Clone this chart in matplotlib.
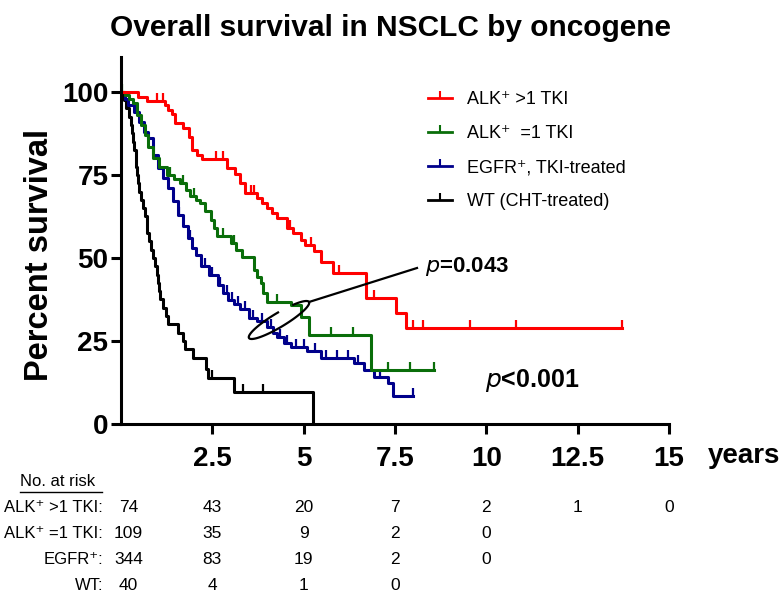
import numpy as np
import matplotlib
matplotlib.use('Agg')
import matplotlib.pyplot as plt
import matplotlib.transforms as mtransforms
from matplotlib.lines import Line2D

plt.rcParams['font.family'] = ['Liberation Sans', 'DejaVu Sans']

W, H = 781, 601

labels = ['ALK⁺ >1 TKI', 'ALK⁺  =1 TKI', 'EGFR⁺, TKI-treated', 'WT (CHT-treated)']
colors = ['#ff0000', '#0a6e0a', '#00008b', '#000000']

# Kaplan-Meier steps: time (years) and percent surviving
alk2_t = [0, 0.47, 0.72, 1.2, 1.3, 1.4, 1.48, 1.7, 1.85, 1.95, 2.08, 2.23, 2.9, 3.13, 3.27, 3.4,
          3.73, 3.87, 4.0, 4.14, 4.28, 4.55, 4.7, 4.92, 5.05, 5.27, 5.47, 5.8, 6.7, 7.53, 7.8]
alk2_s = [100, 98.6, 97.3, 96, 94.6, 93.2, 90.5, 89.2, 86.5, 82.4, 81, 79.7, 77, 75.4, 72.5, 69.6,
          68, 66.6, 65, 63.6, 62, 59, 57.5, 55.4, 54, 52, 48.8, 45.5, 38, 33.4, 29]
alk2_cens = [0.98, 1.16, 2.6, 2.8, 3.55, 3.65, 4.62, 5.2, 5.96, 6.92, 8.0, 8.27, 9.55, 10.8, 13.7]

alk1_t = [0, 0.12, 0.22, 0.33, 0.45, 0.55, 0.65, 0.75, 0.88, 1.05, 1.26, 1.45, 1.62, 1.78, 1.9,
          2.05, 2.17, 2.3, 2.45, 2.55, 2.63, 3.0, 3.15, 3.3, 3.63, 3.73, 3.82, 3.9, 4.0, 4.64,
          4.92, 5.15, 6.84]
alk1_s = [100, 99, 98, 96.5, 93, 90, 87, 83.5, 80, 77.5, 75, 73.8, 72.5, 70.5, 68.5,
          67.5, 66.5, 64, 61.5, 59, 56.5, 54.5, 52.5, 50.4, 46.4, 44.4, 42.4, 39.4, 36.8, 35.8,
          32.3, 26.8, 16.3]
alk1_cens = [0.02, 1.35, 1.7, 2.0, 2.8, 3.1, 4.27, 5.74, 6.35, 7.3, 7.9, 8.58]

egfr_t = [0, 0.1, 0.2, 0.35, 0.5, 0.62, 0.74, 0.88, 1.02, 1.15, 1.29, 1.42, 1.57, 1.7, 1.84,
          1.95, 2.05, 2.2, 2.4, 2.66, 2.8, 2.94, 3.1, 3.27, 3.49, 3.73, 4.0, 4.15, 4.28, 4.45,
          4.64, 5.1, 5.47, 6.37, 6.65, 6.93, 7.3, 7.44]
egfr_s = [100, 98, 96, 94, 91, 88, 86, 81, 77, 74, 71, 67, 63, 59.5, 56,
          53, 51, 47.5, 45, 42, 39.5, 37.3, 36, 34.5, 32, 31, 29.2, 27.5, 26.2, 24.5,
          23.2, 22, 19.9, 18.4, 16.3, 14.2, 12.3, 8.5]
egfr_cens = [1.6, 1.9, 2.3, 2.5, 2.7, 2.9, 3.05, 3.2, 3.4, 3.6, 3.85, 4.1, 4.35, 4.55, 4.8,
             5.0, 5.3, 5.6, 5.9, 6.2, 6.5, 7.1, 8.0]

wt_t = [0, 0.08, 0.15, 0.22, 0.27, 0.3, 0.33, 0.36, 0.4, 0.42, 0.44, 0.46, 0.48, 0.55, 0.6,
        0.65, 0.7, 0.72, 0.76, 0.82, 0.87, 0.93, 0.98, 1.02, 1.05, 1.08, 1.15, 1.22, 1.29,
        1.57, 1.7, 1.76, 1.98, 2.33, 2.39, 3.08, 5.25]
wt_s = [100, 97.5, 95, 92.5, 90, 87.5, 85, 82.5, 80, 77.5, 75, 72.5, 70, 67.5, 65,
        62.5, 60, 57.5, 55, 52.5, 50, 47.5, 45, 42.5, 40, 37.5, 35, 32.5, 30,
        27.5, 25, 22.5, 20, 16.5, 13.8, 9.7, 0]
wt_cens = [2.5, 3.35, 3.9]

# numbers at risk
risk_times = [0, 2.5, 5, 7.5, 10, 12.5, 15]
risk_alk2 = [74, 43, 20, 7, 2, 1, 0]
risk_alk1 = [109, 35, 9, 2, 0]
risk_egfr = [344, 83, 19, 2, 0]
risk_wt = [40, 4, 1, 0]
risk_labels = ['ALK⁺ >1 TKI:', 'ALK⁺ =1 TKI:', 'EGFR⁺:', 'WT:']


def fx(px):
    return px / W


def fy(py):
    return 1 - py / H


def km_curve(ax, t, s, cens, color):
    t_end = max(max(cens), t[-1])
    ax.step(list(t) + [t_end], list(s) + [s[-1]], where='post', color=color, lw=2.2)
    idx = np.searchsorted(t, cens, side='right') - 1
    ax.plot(cens, np.array(s)[idx], ls='none', marker=2, ms=6, mew=1.6, color=color)


fig = plt.figure(figsize=(W / 100, H / 100), dpi=100)
ax = fig.add_axes([fx(121), fy(424), fx(669) - fx(121), fy(57) - fy(424)])

curves = [(alk2_t, alk2_s, alk2_cens), (alk1_t, alk1_s, alk1_cens),
          (egfr_t, egfr_s, egfr_cens), (wt_t, wt_s, wt_cens)]
# draw black first so coloured curves sit on top
for (t, s, c), col in reversed(list(zip(curves, colors))):
    km_curve(ax, t, s, c, col)

ax.set_xlim(0, 15)
ax.set_ylim(0, 110.5)
ax.set_xticks([2.5, 5, 7.5, 10, 12.5, 15])
ax.set_xticklabels(['2.5', '5', '7.5', '10', '12.5', '15'])
ax.set_yticks([0, 25, 50, 75, 100])
for sp in ['top', 'right']:
    ax.spines[sp].set_visible(False)
for sp in ['left', 'bottom']:
    ax.spines[sp].set_linewidth(2.2)
ax.tick_params(axis='both', width=2.2, length=7, labelsize=20)
ax.tick_params(axis='x', pad=9)
ax.tick_params(axis='y', pad=2)
for lab in ax.get_xticklabels() + ax.get_yticklabels():
    lab.set_fontweight('bold')

fig.text(fx(708), fy(456), 'years', fontsize=20, fontweight='bold', va='center', ha='left')
fig.text(fx(40), fy(255), 'Percent survival', fontsize=23.5, fontweight='bold',
         rotation=90, va='center', ha='center')
fig.text(fx(390), fy(28), 'Overall survival in NSCLC by oncogene', fontsize=21.5,
         fontweight='bold', ha='center', va='center')

# legend
handles = [Line2D([], [], color=c, lw=2, marker=2, ms=5, mew=1.5) for c in colors]
ax.legend(handles, labels, loc='upper left', bbox_to_anchor=(fx(428), fy(91)),
          bbox_transform=fig.transFigure, frameon=False, fontsize=13,
          handlelength=1.35, handletextpad=0.8, labelspacing=0.95,
          borderpad=0, borderaxespad=0)

# p values
fig.text(fx(425), fy(266), r'$\bf{\it{p}}$=0.043', fontsize=16, fontweight='bold',
         va='center', ha='left')
fig.text(fx(485), fy(381), r'$\bf{\it{p}}$<0.001', fontsize=18, fontweight='bold',
         va='center', ha='left')

# hand-drawn ellipse around the ALK=1 / EGFR curves with a leader line
cx, cy, a, b, phi = 279, 320, 35, 7, np.deg2rad(31)
th = np.deg2rad(np.linspace(85, 415, 120))
ex = cx + a * np.cos(th) * np.cos(phi) - b * np.sin(th) * np.sin(phi)
ey = cy - (a * np.cos(th) * np.sin(phi) + b * np.sin(th) * np.cos(phi))
fig.add_artist(Line2D(fx(ex), fy(ey), color='black', lw=1.6))
fig.add_artist(Line2D([fx(309), fx(417)], [fy(302), fy(268)], color='black', lw=1.6))

# number at risk table
fig.text(fx(20), fy(482), 'No. at risk', fontsize=12, ha='left', va='center')
fig.add_artist(Line2D([fx(20), fx(102)], [fy(492), fy(492)], color='black', lw=1))
row_y = [507, 533, 560, 586]
trans = mtransforms.blended_transform_factory(ax.transData, fig.transFigure)
for lab, counts, ry in zip(risk_labels, [risk_alk2, risk_alk1, risk_egfr, risk_wt], row_y):
    fig.text(fx(103), fy(ry), lab, fontsize=12, ha='right', va='center')
    for t, n in zip(risk_times, counts):
        ax.text(max(t, 0.2), fy(ry), str(n), transform=trans, fontsize=12.5,
                ha='center', va='center', clip_on=False)

fig.savefig('out.png', dpi=100)
